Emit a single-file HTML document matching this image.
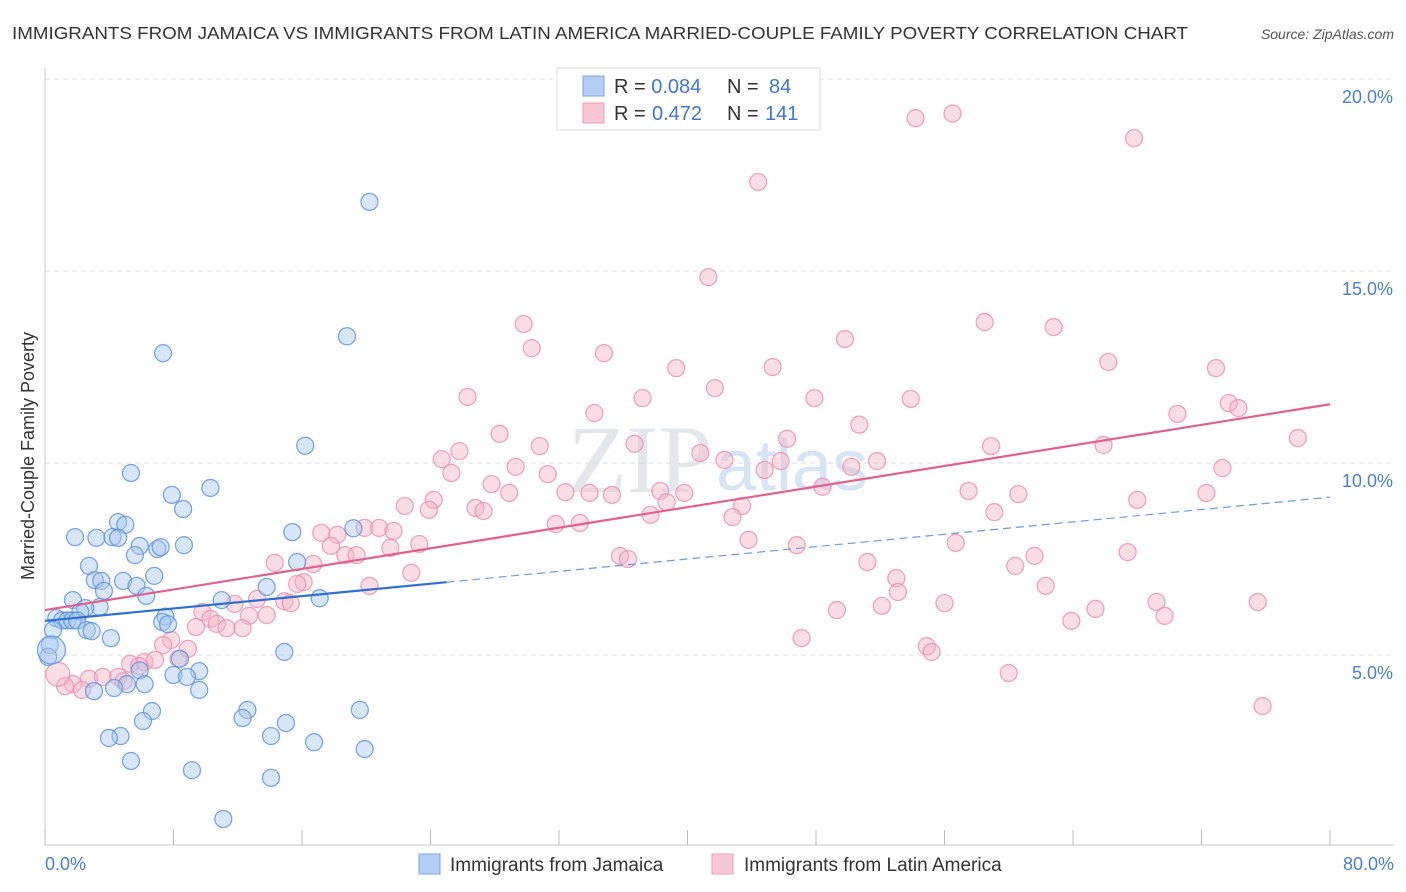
<!DOCTYPE html>
<html><head><meta charset="utf-8">
<style>
body{margin:0;background:#fff;font-family:"Liberation Sans",sans-serif;}
svg{display:block}
</style></head>
<body>
<svg id="chart" width="1406" height="892" xmlns="http://www.w3.org/2000/svg">
<text x="12" y="39" font-size="17.5" fill="#333" textLength="1176" lengthAdjust="spacingAndGlyphs">IMMIGRANTS FROM JAMAICA VS IMMIGRANTS FROM LATIN AMERICA MARRIED-COUPLE FAMILY POVERTY CORRELATION CHART</text>
<text x="1394" y="39" font-size="14" fill="#555" font-style="italic" text-anchor="end">Source: ZipAtlas.com</text>
<text x="712" y="492" font-size="96" fill="#e3e7ec" font-family="Liberation Serif,serif" text-anchor="end">ZIP</text>
<text x="716" y="490" font-size="72" fill="#d6e4f5" text-anchor="start">atlas</text>
<g id="grid"></g>
<g id="axes"></g>
<g id="pts"></g>
<g id="lines"></g>
<text transform="translate(34,456) rotate(-90)" font-size="18" fill="#333" text-anchor="middle">Married-Couple Family Poverty</text>
<g>
<rect x="557" y="68" width="263" height="62" fill="#fff" stroke="#ddd"/>
<rect x="583" y="76" width="21" height="20" fill="#b4cff3" stroke="#7aa6e3"/>
<rect x="583" y="103" width="21" height="20" fill="#f9c6d5" stroke="#ef9fba"/>
<text x="614" y="93" font-size="20" fill="#333">R = <tspan fill="#3f78cc">0.084</tspan><tspan x="727">N = </tspan><tspan x="769" fill="#3f78cc">84</tspan></text>
<text x="614" y="120" font-size="20" fill="#333">R = <tspan x="652" fill="#3f78cc">0.472</tspan><tspan x="727">N = </tspan><tspan x="765" fill="#3f78cc">141</tspan></text>
</g>
<g>
<rect x="419" y="854" width="21" height="20" fill="#b4cff3" stroke="#7aa6e3"/>
<text x="450" y="871" font-size="19" fill="#333">Immigrants from Jamaica</text>
<rect x="712" y="854" width="21" height="20" fill="#f9c6d5" stroke="#ef9fba"/>
<text x="744" y="871" font-size="19" fill="#333">Immigrants from Latin America</text>
</g>
</svg>
<script>
const yTicks=[5,10,15,20];
const yTickLabels=["5.0%","10.0%","15.0%","20.0%"];
const xTickLabels=["0.0%","80.0%"];
const jamaicaX=[20.2,18.8,7.35,16.2,5.35,10.3,7.9,8.6,4.55,5.0,15.4,19.2,1.87,3.2,4.2,4.55,5.9,7.0,7.2,8.65,5.6,15.7,2.74,6.8,3.1,3.5,4.86,13.8,5.7,3.67,6.3,17.1,11.0,1.74,3.4,2.5,2.2,7.5,0.7,1.06,1.4,1.7,2.0,7.3,7.66,2.6,2.9,0.5,4.1,0.3,14.9,0.2,8.4,9.6,5.9,8.0,8.84,6.2,5.1,4.3,3.05,9.6,6.66,12.6,19.6,6.1,12.3,15.0,4.7,3.98,14.07,16.75,19.9,5.35,9.15,14.07,11.1];
const jamaicaY=[16.8,13.3,12.86,10.45,9.74,9.35,9.17,8.8,8.46,8.39,8.2,8.3,8.07,8.05,8.07,8.05,7.84,7.76,7.81,7.86,7.6,7.42,7.32,7.06,6.95,6.93,6.93,6.77,6.8,6.67,6.54,6.48,6.43,6.43,6.25,6.22,6.12,6.0,5.96,5.9,5.9,5.9,5.9,5.86,5.8,5.65,5.62,5.65,5.44,5.26,5.08,4.95,4.9,4.58,4.6,4.48,4.43,4.24,4.24,4.14,4.06,4.09,3.54,3.57,3.57,3.28,3.36,3.23,2.89,2.84,2.89,2.73,2.55,2.24,2.0,1.8,0.73];
const latinX=[56.5,54.2,67.8,44.4,41.3,58.5,62.8,29.8,30.3,49.8,34.8,39.3,45.3,66.2,72.9,41.7,26.3,37.2,47.9,53.9,73.7,74.3,34.2,70.5,50.7,28.3,46.2,78.0,36.7,58.9,65.9,30.8,25.8,24.7,40.8,42.3,45.8,51.8,25.3,29.3,31.3,44.8,50.2,27.8,48.4,32.4,33.9,35.3,38.3,39.8,57.5,60.6,72.3,73.3,28.9,24.2,22.4,23.9,26.8,27.3,38.7,43.4,42.8,37.7,59.1,68.0,31.8,33.3,17.2,18.2,19.9,20.8,21.7,21.5,23.3,17.8,43.8,46.8,56.7,18.7,19.4,35.8,36.3,67.4,16.7,14.3,61.6,60.4,51.2,22.8,53.0,16.1,15.7,20.2,62.3,53.1,13.2,14.9,15.3,11.8,56.0,69.2,75.5,52.1,49.3,65.4,9.8,69.7,12.7,13.8,10.3,63.9,10.7,9.4,11.3,12.3,7.85,47.1,7.35,54.9,8.9,55.2,8.3,5.3,6.2,6.85,5.85,60.0,2.74,3.6,4.55,4.9,1.74,1.25,2.3,75.8];
const latinY=[19.1,18.98,18.46,17.32,14.84,13.67,13.54,13.62,12.99,13.23,12.86,12.47,12.5,12.63,12.47,11.95,11.72,11.69,11.69,11.67,11.56,11.43,11.3,11.28,11.0,10.76,10.63,10.65,10.5,10.44,10.47,10.44,10.31,10.1,10.26,10.08,10.05,10.05,9.74,9.9,9.71,9.82,9.9,9.45,9.38,9.24,9.22,9.17,9.27,9.22,9.27,9.19,9.22,9.87,9.22,9.04,8.88,8.78,8.83,8.75,8.98,8.88,8.59,8.65,8.72,9.04,8.41,8.44,8.18,8.13,8.31,8.31,8.23,7.79,7.89,7.84,8.0,7.86,7.92,7.6,7.6,7.58,7.5,7.68,7.37,7.4,7.58,7.32,7.42,7.14,7.0,6.9,6.85,6.8,6.8,6.64,6.46,6.4,6.35,6.33,6.35,6.38,6.38,6.28,6.17,6.2,6.12,6.02,6.02,6.04,5.94,5.89,5.81,5.73,5.7,5.7,5.39,5.44,5.26,5.23,5.16,5.08,4.9,4.77,4.82,4.87,4.71,4.53,4.38,4.43,4.43,4.32,4.24,4.19,4.09,3.67];
const bigJamaica=[[0.4,5.13]];
const bigLatin=[[0.8,4.5]];
const jamaicaTrend=[5.89,9.11];
const latinTrend=[6.17,11.53];
const jamaicaSolidEnd=25;

const X0=45,X1=1330,Y0=847,PY=38.4;
const sx=v=>X0+(v/80)*(X1-X0);
const sy=v=>Y0-v*PY;
const NS="http://www.w3.org/2000/svg";
function mk(tag,attrs,parent){const e=document.createElementNS(NS,tag);for(const k in attrs)e.setAttribute(k,attrs[k]);parent.appendChild(e);return e;}
const gridG=document.getElementById('grid'),axesG=document.getElementById('axes'),ptsG=document.getElementById('pts'),linesG=document.getElementById('lines');
yTicks.forEach((t,i)=>{
 const l=mk('line',{x1:45,x2:1394,y1:sy(t),y2:sy(t),stroke:'#ddd','stroke-dasharray':'5,4'},gridG);
 
 
 const tx=mk('text',{x:1393,y:sy(t)+24,'font-size':18,fill:'#4a7fd0','text-anchor':'end'},axesG);
 tx.textContent=yTickLabels[i];
 
 
});
const ya=mk('line',{x1:45,x2:45,y1:68,y2:845,stroke:'#ccc'},axesG);


const xa=mk('line',{x1:45,x2:1394,y1:845,y2:845,stroke:'#ccc'},axesG);


for(let i=0;i<=10;i++){
 const t=mk('line',{x1:sx(i*8),x2:sx(i*8),y1:830,y2:845,stroke:'#bbb'},axesG);
 
 
}
[[0,'start',45],[80,'end',1394]].forEach((d,i)=>{
 const tx=mk('text',{x:d[2],y:870,'font-size':18,fill:'#4a7fd0','text-anchor':d[1]},axesG);
 tx.textContent=xTickLabels[i];
 
 
});
function dot(x,y,r,fill,stroke,name){
 const c=mk('circle',{cx:sx(x),cy:sy(y),r:r,fill:fill,'fill-opacity':0.45,stroke:stroke,'stroke-width':1.3,'stroke-opacity':0.8},ptsG);
 
 
}
latinX.forEach((x,i)=>dot(x,latinY[i],8.5,'#f7b3c8','#ec8fb0','latin-america-point'));
bigLatin.forEach(p=>dot(p[0],p[1],12,'#f7b3c8','#ec8fb0','latin-america-point'));
jamaicaX.forEach((x,i)=>dot(x,jamaicaY[i],8.5,'#a9c8f2','#5b92dc','jamaica-point'));
bigJamaica.forEach(p=>dot(p[0],p[1],14,'#a9c8f2','#5b92dc','jamaica-point'));
const jy=x=>jamaicaTrend[0]+(jamaicaTrend[1]-jamaicaTrend[0])*x/80;
const l1=mk('line',{x1:sx(0),y1:sy(jy(0)),x2:sx(jamaicaSolidEnd),y2:sy(jy(jamaicaSolidEnd)),stroke:'#2f6fd0','stroke-width':2.2},linesG);


const l2=mk('line',{x1:sx(jamaicaSolidEnd),y1:sy(jy(jamaicaSolidEnd)),x2:sx(80),y2:sy(jy(80)),stroke:'#6e9ad8','stroke-width':1.2,'stroke-dasharray':'8,5'},linesG);


const l3=mk('line',{x1:sx(0),y1:sy(latinTrend[0]),x2:sx(80),y2:sy(latinTrend[1]),stroke:'#e2608e','stroke-width':2.2},linesG);


</script>
</body></html>
